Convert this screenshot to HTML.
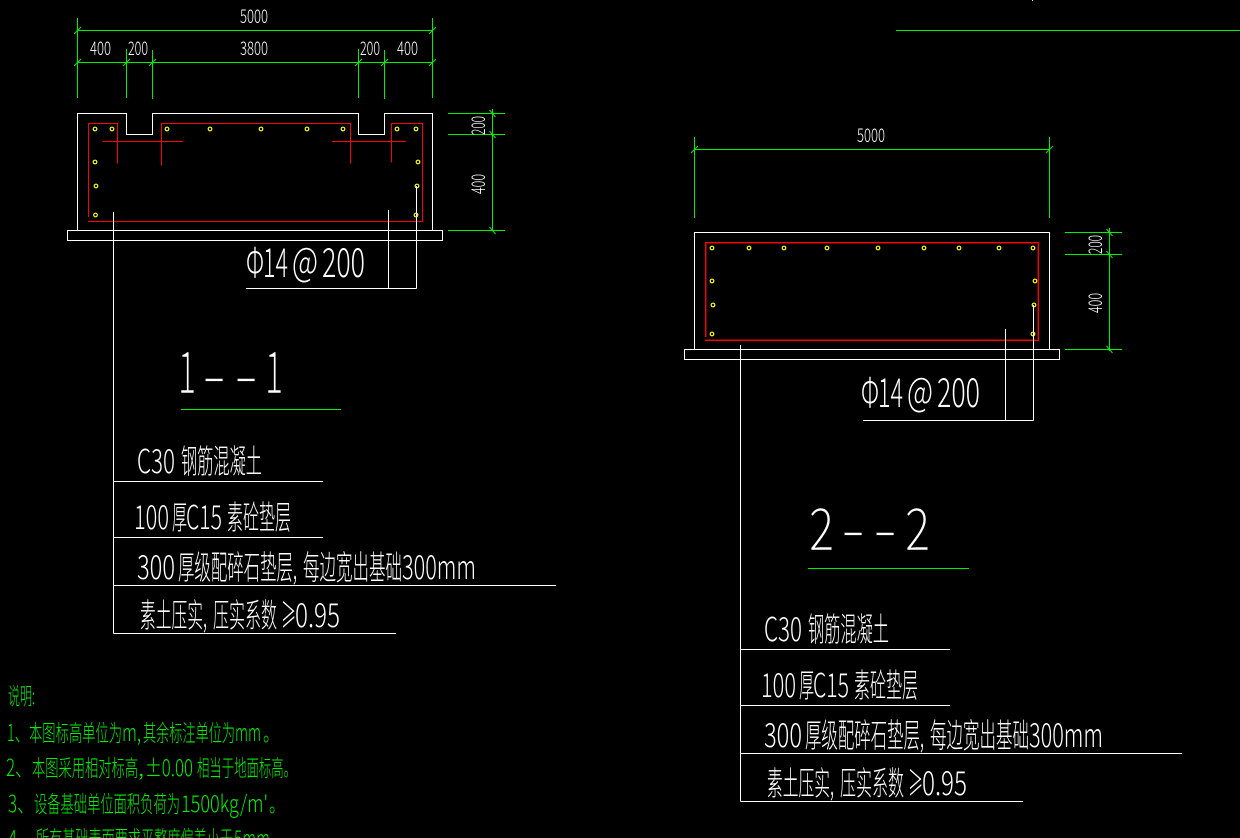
<!DOCTYPE html>
<html><head><meta charset="utf-8"><style>
html,body{margin:0;padding:0;background:#000;width:1240px;height:838px;overflow:hidden}
svg{display:block}
.l{fill:none;shape-rendering:crispEdges;stroke-width:1}
.w{stroke:#fff}.g{stroke:#00f000}.r{stroke:#ff0000}
.t{fill:none;stroke:#00f000;stroke-width:1}
.c{fill:none;stroke:#ffff00;stroke-width:1.2}
text{font-family:"Noto Sans CJK SC","Liberation Sans",sans-serif;font-weight:300}
.lab{fill:#fff;font-size:33px}
.big{fill:#fff;font-size:40px}
.huge{fill:#fff;font-size:58px;stroke:#000;stroke-width:.5px}
.dim{fill:#fff;font-size:19px}
.note{fill:#00f000;font-size:23px;font-weight:400}
</style></head><body>
<svg width="1240" height="838" viewBox="0 0 1240 838" xmlns="http://www.w3.org/2000/svg">
<rect width="1240" height="838" fill="#000"/>
<path class="l g" d="M896 30.500H1240"/>
<path class="l w" d="M1032.500 0V1"/>

<!-- Section 1 dims -->
<path class="l g" d="M77.500 18V98M432.500 18V98M77 30.500H433M77 62.500H433M126.500 49V98M152.500 50V99M358.500 49V98M384.500 50V99M448 113.500H505M448 134.500H505M448 230.500H505M492.500 109V231"/>
<path class="t" d="M74 34L81 27M429 34L436 27M74 66L81 59M123 66L130 59M149 66L156 59M355 66L362 59M381 66L388 59M429 66L436 59M489.500 110L495.500 117M489.500 131L495.500 138M489.500 227L495.500 234"/>
<!-- Section 1 outline -->
<path class="l w" d="M77.500 230.500V113.500H126.500V134.500H152.500V113.500H358.500V134.500H384.500V113.500H432.500V230.500"/>
<rect class="l w" x="67.500" y="230.500" width="375" height="10"/>
<!-- Section 1 rebar -->
<path class="l r" d="M88.500 217V123.500H117.500V163.500M161.500 165.500V123.500H350.500V163.500M391.500 162.500V123.500H422.500V221.500H88M103 141.500H183M332 141.500H406"/>
<g class="c">
<circle cx="95" cy="129" r="1.800"/><circle cx="112" cy="129" r="1.800"/><circle cx="167" cy="129" r="1.800"/><circle cx="210" cy="129" r="1.800"/><circle cx="261" cy="129" r="1.800"/><circle cx="307" cy="129" r="1.800"/><circle cx="343" cy="129" r="1.800"/><circle cx="397" cy="129" r="1.800"/><circle cx="416" cy="129" r="1.800"/>
<circle cx="95" cy="162" r="1.800"/><circle cx="96" cy="186" r="1.800"/><circle cx="95.500" cy="215" r="1.800"/><circle cx="418" cy="162" r="1.800"/><circle cx="417" cy="186" r="1.800"/><circle cx="416" cy="215" r="1.800"/>
</g>
<path class="l w" d="M113.500 212V633.500M388.500 210V288.500M416.500 186V288.500M246 288.500H416.500"/>
<path class="l g" d="M181 409.500H341"/>
<path class="l w" d="M113.500 481.500H323M113.500 537.500H323M113.500 585.500H556M113.500 633.500H396"/>

<!-- Section 2 dims -->
<path class="l g" d="M694.500 137V218M1049.500 137V218M694 149.500H1050M1065 232.500H1122M1065 254.500H1122M1065 349.500H1122M1109.500 228V351"/>
<path class="t" d="M691 153L698 146M1046 153L1053 146M1106.500 229L1112.500 236M1106.500 251L1112.500 258M1106.500 346L1112.500 353"/>
<path class="l w" d="M694.500 349.500V232.500H1049.500V349.500"/>
<rect class="l w" x="684.500" y="349.500" width="375" height="10"/>
<path class="l r" d="M705.500 337V242.500H1038.500V340.500H705"/>
<path class="l r" stroke-opacity=".45" d="M706.500 337V243.500H1037.500V339.500H705"/>
<g class="c">
<circle cx="712" cy="248" r="1.800"/><circle cx="749" cy="248" r="1.800"/><circle cx="784" cy="248" r="1.800"/><circle cx="827" cy="248" r="1.800"/><circle cx="878" cy="248" r="1.800"/><circle cx="924" cy="248" r="1.800"/><circle cx="959" cy="248" r="1.800"/><circle cx="999" cy="248" r="1.800"/><circle cx="1033" cy="248" r="1.800"/>
<circle cx="712" cy="281" r="1.800"/><circle cx="713" cy="305" r="1.800"/><circle cx="712" cy="334" r="1.800"/><circle cx="1035" cy="281" r="1.800"/><circle cx="1034" cy="305" r="1.800"/><circle cx="1033" cy="334" r="1.800"/>
</g>
<path class="l w" d="M740.500 345V801.500M1005.500 329V420.500M1033.500 305V420.500M863 420.500H1033.500"/>
<path class="l g" d="M808 568.500H969"/>
<path class="l w" d="M740.500 649.500H950M740.500 705.500H950M740.500 753.500H1182M740.500 801.500H1023"/>

<!-- Dim text -->
<g class="dim">
<text x="240" y="23" textLength="28" lengthAdjust="spacingAndGlyphs">5000</text>
<text x="90" y="55" textLength="21" lengthAdjust="spacingAndGlyphs">400</text>
<text x="128" y="55" textLength="20" lengthAdjust="spacingAndGlyphs">200</text>
<text x="240" y="55" textLength="28" lengthAdjust="spacingAndGlyphs">3800</text>
<text x="360" y="55" textLength="20" lengthAdjust="spacingAndGlyphs">200</text>
<text x="397" y="55" textLength="21" lengthAdjust="spacingAndGlyphs">400</text>
<text transform="translate(485 135) rotate(-90)" textLength="19" lengthAdjust="spacingAndGlyphs">200</text>
<text transform="translate(485 194) rotate(-90)" textLength="20" lengthAdjust="spacingAndGlyphs">400</text>
<text x="857" y="142" textLength="28" lengthAdjust="spacingAndGlyphs">5000</text>
<text transform="translate(1102 254) rotate(-90)" textLength="19" lengthAdjust="spacingAndGlyphs">200</text>
<text transform="translate(1102 313) rotate(-90)" textLength="20" lengthAdjust="spacingAndGlyphs">400</text>
</g>

<!-- Rebar callouts -->
<g class="big">
<text x="246" y="277" textLength="18" lengthAdjust="spacingAndGlyphs">Φ</text>
<text x="263" y="277" textLength="25" lengthAdjust="spacingAndGlyphs">14</text>
<text x="292" y="276" textLength="26" lengthAdjust="spacingAndGlyphs">@</text>
<text x="322" y="277" textLength="43" lengthAdjust="spacingAndGlyphs">200</text>
<text x="861" y="407" textLength="18" lengthAdjust="spacingAndGlyphs">Φ</text>
<text x="878" y="407" textLength="25" lengthAdjust="spacingAndGlyphs">14</text>
<text x="907" y="406" textLength="26" lengthAdjust="spacingAndGlyphs">@</text>
<text x="937" y="407" textLength="43" lengthAdjust="spacingAndGlyphs">200</text>
</g>

<!-- Section titles -->
<g class="huge">
<text x="178" y="393" textLength="18" lengthAdjust="spacingAndGlyphs">1</text>
<text x="202" y="396" textLength="24" lengthAdjust="spacingAndGlyphs">-</text>
<text x="234" y="396" textLength="24" lengthAdjust="spacingAndGlyphs">-</text>
<text x="265" y="393" textLength="18" lengthAdjust="spacingAndGlyphs">1</text>
<text x="809" y="550" textLength="25" lengthAdjust="spacingAndGlyphs">2</text>
<text x="841" y="550" textLength="24" lengthAdjust="spacingAndGlyphs">-</text>
<text x="873" y="550" textLength="24" lengthAdjust="spacingAndGlyphs">-</text>
<text x="905" y="550" textLength="25" lengthAdjust="spacingAndGlyphs">2</text>
</g>

<!-- Labels, section 1 -->
<g class="lab">
<text x="137" y="473" textLength="38" lengthAdjust="spacingAndGlyphs">C30</text>
<text x="181" y="473" textLength="81" lengthAdjust="spacingAndGlyphs">钢筋混凝土</text>
<text x="134" y="529" textLength="35" lengthAdjust="spacingAndGlyphs">100</text>
<text x="172" y="529" textLength="15" lengthAdjust="spacingAndGlyphs">厚</text>
<text x="186" y="529" textLength="36" lengthAdjust="spacingAndGlyphs">C15</text>
<text x="227" y="529" textLength="64" lengthAdjust="spacingAndGlyphs">素砼垫层</text>
<text x="137" y="579" textLength="38" lengthAdjust="spacingAndGlyphs">300</text>
<text x="178" y="579" textLength="119" lengthAdjust="spacingAndGlyphs">厚级配碎石垫层,</text>
<text x="303" y="579" textLength="99" lengthAdjust="spacingAndGlyphs">每边宽出基础</text>
<text x="402" y="579" textLength="74" lengthAdjust="spacingAndGlyphs">300mm</text>
<text x="140" y="627" textLength="67" lengthAdjust="spacingAndGlyphs">素土压实,</text>
<text x="213" y="627" textLength="64" lengthAdjust="spacingAndGlyphs">压实系数</text>
<text x="281" y="627" textLength="15" lengthAdjust="spacingAndGlyphs">≥</text>
<text x="295" y="627" textLength="45" lengthAdjust="spacingAndGlyphs">0.95</text>
</g>
<!-- Labels, section 2 -->
<g class="lab" transform="translate(627 168)">
<text x="137" y="473" textLength="38" lengthAdjust="spacingAndGlyphs">C30</text>
<text x="181" y="473" textLength="81" lengthAdjust="spacingAndGlyphs">钢筋混凝土</text>
<text x="134" y="529" textLength="35" lengthAdjust="spacingAndGlyphs">100</text>
<text x="172" y="529" textLength="15" lengthAdjust="spacingAndGlyphs">厚</text>
<text x="186" y="529" textLength="36" lengthAdjust="spacingAndGlyphs">C15</text>
<text x="227" y="529" textLength="64" lengthAdjust="spacingAndGlyphs">素砼垫层</text>
<text x="137" y="579" textLength="38" lengthAdjust="spacingAndGlyphs">300</text>
<text x="178" y="579" textLength="119" lengthAdjust="spacingAndGlyphs">厚级配碎石垫层,</text>
<text x="303" y="579" textLength="99" lengthAdjust="spacingAndGlyphs">每边宽出基础</text>
<text x="402" y="579" textLength="74" lengthAdjust="spacingAndGlyphs">300mm</text>
<text x="140" y="627" textLength="67" lengthAdjust="spacingAndGlyphs">素土压实,</text>
<text x="213" y="627" textLength="64" lengthAdjust="spacingAndGlyphs">压实系数</text>
<text x="281" y="627" textLength="15" lengthAdjust="spacingAndGlyphs">≥</text>
<text x="295" y="627" textLength="45" lengthAdjust="spacingAndGlyphs">0.95</text>
</g>

<!-- Notes -->
<g class="note">
<text x="8" y="704" textLength="27" lengthAdjust="spacingAndGlyphs">说明:</text>

<text x="7" y="741" textLength="22" lengthAdjust="spacingAndGlyphs">1、</text>
<text x="29" y="741" textLength="93" lengthAdjust="spacingAndGlyphs">本图标高单位为</text>
<text x="122" y="741" textLength="19" lengthAdjust="spacingAndGlyphs">m,</text>
<text x="143" y="741" textLength="92" lengthAdjust="spacingAndGlyphs">其余标注单位为</text>
<text x="235" y="741" textLength="26" lengthAdjust="spacingAndGlyphs">mm</text>
<text x="263" y="741" textLength="16" lengthAdjust="spacingAndGlyphs">。</text>

<text x="6" y="776" textLength="26" lengthAdjust="spacingAndGlyphs">2、</text>
<text x="32" y="776" textLength="106" lengthAdjust="spacingAndGlyphs">本图采用相对标高</text>
<text x="138" y="776" textLength="6" lengthAdjust="spacingAndGlyphs">,</text>
<text x="145" y="776" textLength="48" lengthAdjust="spacingAndGlyphs">±0.00</text>
<text x="197" y="776" textLength="99" lengthAdjust="spacingAndGlyphs">相当于地面标高。</text>

<text x="8" y="812" textLength="26" lengthAdjust="spacingAndGlyphs">3、</text>
<text x="34" y="812" textLength="146" lengthAdjust="spacingAndGlyphs">设备基础单位面积负荷为</text>
<text x="181" y="812" textLength="87" lengthAdjust="spacingAndGlyphs">1500kg/m'</text>
<text x="269" y="812" textLength="16" lengthAdjust="spacingAndGlyphs">。</text>

<text x="8" y="847" textLength="26" lengthAdjust="spacingAndGlyphs">4、</text>
<text x="36" y="847" textLength="197" lengthAdjust="spacingAndGlyphs">所有基础表面要求平整度偏差小于</text>
<text x="234" y="847" textLength="36" lengthAdjust="spacingAndGlyphs">5mm</text>
<text x="271" y="847" textLength="16" lengthAdjust="spacingAndGlyphs">。</text>
</g>
</svg>
</body></html>
